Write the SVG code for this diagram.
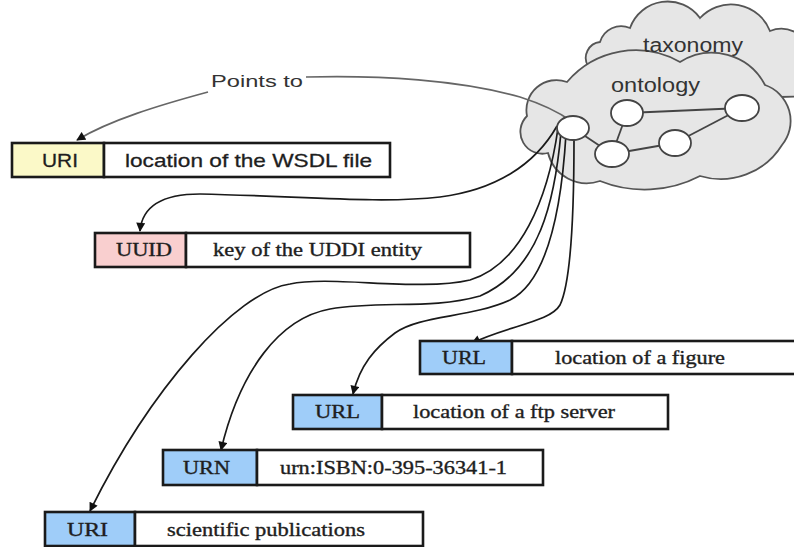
<svg xmlns="http://www.w3.org/2000/svg" width="794" height="547" viewBox="0 0 794 547">
  <style>
    .cloud { fill: #e6e6e6; stroke: #555; stroke-width: 1.8; }
    .cloud-label { font-family: "Liberation Sans", Arial, sans-serif; font-size: 20px; fill: #333; }
    .concept { fill: #fff; stroke: #444; stroke-width: 1.8; }
    .relation { stroke: #444; stroke-width: 1.8; fill: none; }
    .box { stroke: #1a1a1a; stroke-width: 2.6; }
    .value { fill: #fff; }
    .yellow { fill: #fbf9c8; }
    .pink { fill: #f9cfcf; }
    .blue { fill: #9fcdf9; }
    .sans { font-family: "Liberation Sans", Arial, sans-serif; font-size: 19px; fill: #1e1e1e; stroke: #1e1e1e; stroke-width: 0.3; }
    .serif { font-family: "Liberation Serif", "Times New Roman", serif; font-size: 18px; fill: #1e1e1e; stroke: #1e1e1e; stroke-width: 0.35; }
    .link { fill: none; stroke: #1a1a1a; stroke-width: 1.7; }
    .pointer { fill: none; stroke: #666; stroke-width: 1.7; }
  </style>
  <defs>
    <marker id="arrow" viewBox="0 0 10 10" refX="9" refY="5" markerWidth="10" markerHeight="9" markerUnits="userSpaceOnUse" orient="auto">
      <path d="M0,0 L10,5 L0,10 z" fill="#111"/>
    </marker>
  </defs>

  <!-- knowledge clouds -->
  <g id="taxonomy">
    <path class="cloud" d="M588,66 A16,16 0 0 1 600,42 A22,22 0 0 1 630,28 A40,40 0 0 1 700,18 A42,42 0 0 1 770,31 A30,30 0 0 1 810,50 L810,96 L780,97 Z"/>
  </g>
  <g id="ontology">
    <path class="cloud" d="M548,153 A22,22 0 0 1 527,116 A30,30 0 0 1 567,82 A90,90 0 0 1 680,62 A60,60 0 0 1 765,85 A38,38 0 0 1 782,145 A72,72 0 0 1 700,176 A120,120 0 0 1 600,181 A40,40 0 0 1 548,153 Z"/>
    <text class="cloud-label" x="611" y="92" textLength="89" lengthAdjust="spacingAndGlyphs">ontology</text>
    <line class="relation" x1="627" y1="113" x2="742" y2="108"/>
    <line class="relation" x1="627" y1="113" x2="612" y2="154"/>
    <line class="relation" x1="573" y1="128" x2="612" y2="154"/>
    <line class="relation" x1="612" y1="154" x2="675" y2="143"/>
    <line class="relation" x1="675" y1="143" x2="742" y2="108"/>
    <ellipse class="concept" cx="627" cy="113" rx="16" ry="13"/>
    <ellipse class="concept" cx="742" cy="108" rx="17" ry="13"/>
    <ellipse class="concept" cx="612" cy="154" rx="17" ry="13"/>
    <ellipse class="concept" cx="675" cy="143" rx="16" ry="13"/>
  </g>
  <g id="taxonomy-label">
    <text class="cloud-label" x="643" y="52" textLength="100" lengthAdjust="spacingAndGlyphs">taxonomy</text>
  </g>

  <!-- connectors -->
  <g id="connectors">
    <path class="pointer" d="M306,77 C380,75 460,80 520,97 C545,105 560,113 571,121"/>
    <path class="pointer" d="M208,92 C160,105 110,120 77,140" marker-end="url(#arrow)"/>
    <path class="link" d="M557,126 C535,165 495,190 440,197 C380,204 300,196 200,194 C160,194 142,208 140,231" marker-end="url(#arrow)"/>
    <path class="link" d="M558,128 C548,200 520,265 470,280 C420,292 330,275 290,284 C235,292 150,390 90,511" marker-end="url(#arrow)"/>
    <path class="link" d="M561,132 C555,200 540,270 480,296 C430,310 380,300 330,309 C280,318 240,370 221,450" marker-end="url(#arrow)"/>
    <path class="link" d="M566,134 C562,200 550,280 510,300 C470,318 420,315 395,333 C375,348 360,365 353,394" marker-end="url(#arrow)"/>
    <path class="link" d="M574,140 C574,200 572,280 560,305 C550,322 510,325 472,343" marker-end="url(#arrow)"/>
  </g>

  <!-- source concept drawn above the connector ends -->
  <g id="source-concept">
    <ellipse class="concept" cx="573" cy="128" rx="16" ry="12"/>
  </g>

  <!-- identifier records -->
  <g id="wsdl-uri">
    <rect class="box yellow" x="12" y="143" width="92" height="34"/>
    <rect class="box value" x="104" y="143" width="286" height="34"/>
    <text class="sans" x="42" y="167" textLength="36" lengthAdjust="spacingAndGlyphs">URI</text>
    <text class="sans" x="125" y="167" textLength="247" lengthAdjust="spacingAndGlyphs">location of the WSDL file</text>
  </g>
  <g id="uddi-uuid">
    <rect class="box pink" x="95" y="233" width="91" height="34"/>
    <rect class="box value" x="186" y="233" width="284" height="34"/>
    <text class="serif" x="116" y="256" textLength="56" lengthAdjust="spacingAndGlyphs">UUID</text>
    <text class="serif" x="213" y="256" textLength="209" lengthAdjust="spacingAndGlyphs">key of the UDDI entity</text>
  </g>
  <g id="figure-url">
    <rect class="box blue" x="420" y="341" width="92" height="33"/>
    <rect class="box value" x="512" y="341" width="290" height="33"/>
    <text class="serif" x="442" y="364" textLength="44" lengthAdjust="spacingAndGlyphs">URL</text>
    <text class="serif" x="555" y="364" textLength="170" lengthAdjust="spacingAndGlyphs">location of a figure</text>
  </g>
  <g id="ftp-url">
    <rect class="box blue" x="293" y="395" width="89" height="34"/>
    <rect class="box value" x="382" y="395" width="286" height="34"/>
    <text class="serif" x="315" y="418" textLength="45" lengthAdjust="spacingAndGlyphs">URL</text>
    <text class="serif" x="413" y="418" textLength="202" lengthAdjust="spacingAndGlyphs">location of a ftp server</text>
  </g>
  <g id="isbn-urn">
    <rect class="box blue" x="163" y="450" width="94" height="35"/>
    <rect class="box value" x="257" y="450" width="286" height="35"/>
    <text class="serif" x="183" y="474" textLength="47" lengthAdjust="spacingAndGlyphs">URN</text>
    <text class="serif" x="280" y="474" textLength="227" lengthAdjust="spacingAndGlyphs">urn:ISBN:0-395-36341-1</text>
  </g>
  <g id="publications-uri">
    <rect class="box blue" x="45" y="512" width="90" height="34"/>
    <rect class="box value" x="135" y="512" width="288" height="34"/>
    <text class="serif" x="67" y="536" textLength="41" lengthAdjust="spacingAndGlyphs">URI</text>
    <text class="serif" x="167" y="536" textLength="198" lengthAdjust="spacingAndGlyphs">scientific publications</text>
  </g>

  <g id="label-points-to">
    <text x="211" y="87" font-family="Liberation Sans, Arial, sans-serif" font-size="17" fill="#333" textLength="92" lengthAdjust="spacingAndGlyphs">Points to</text>
  </g>
</svg>
